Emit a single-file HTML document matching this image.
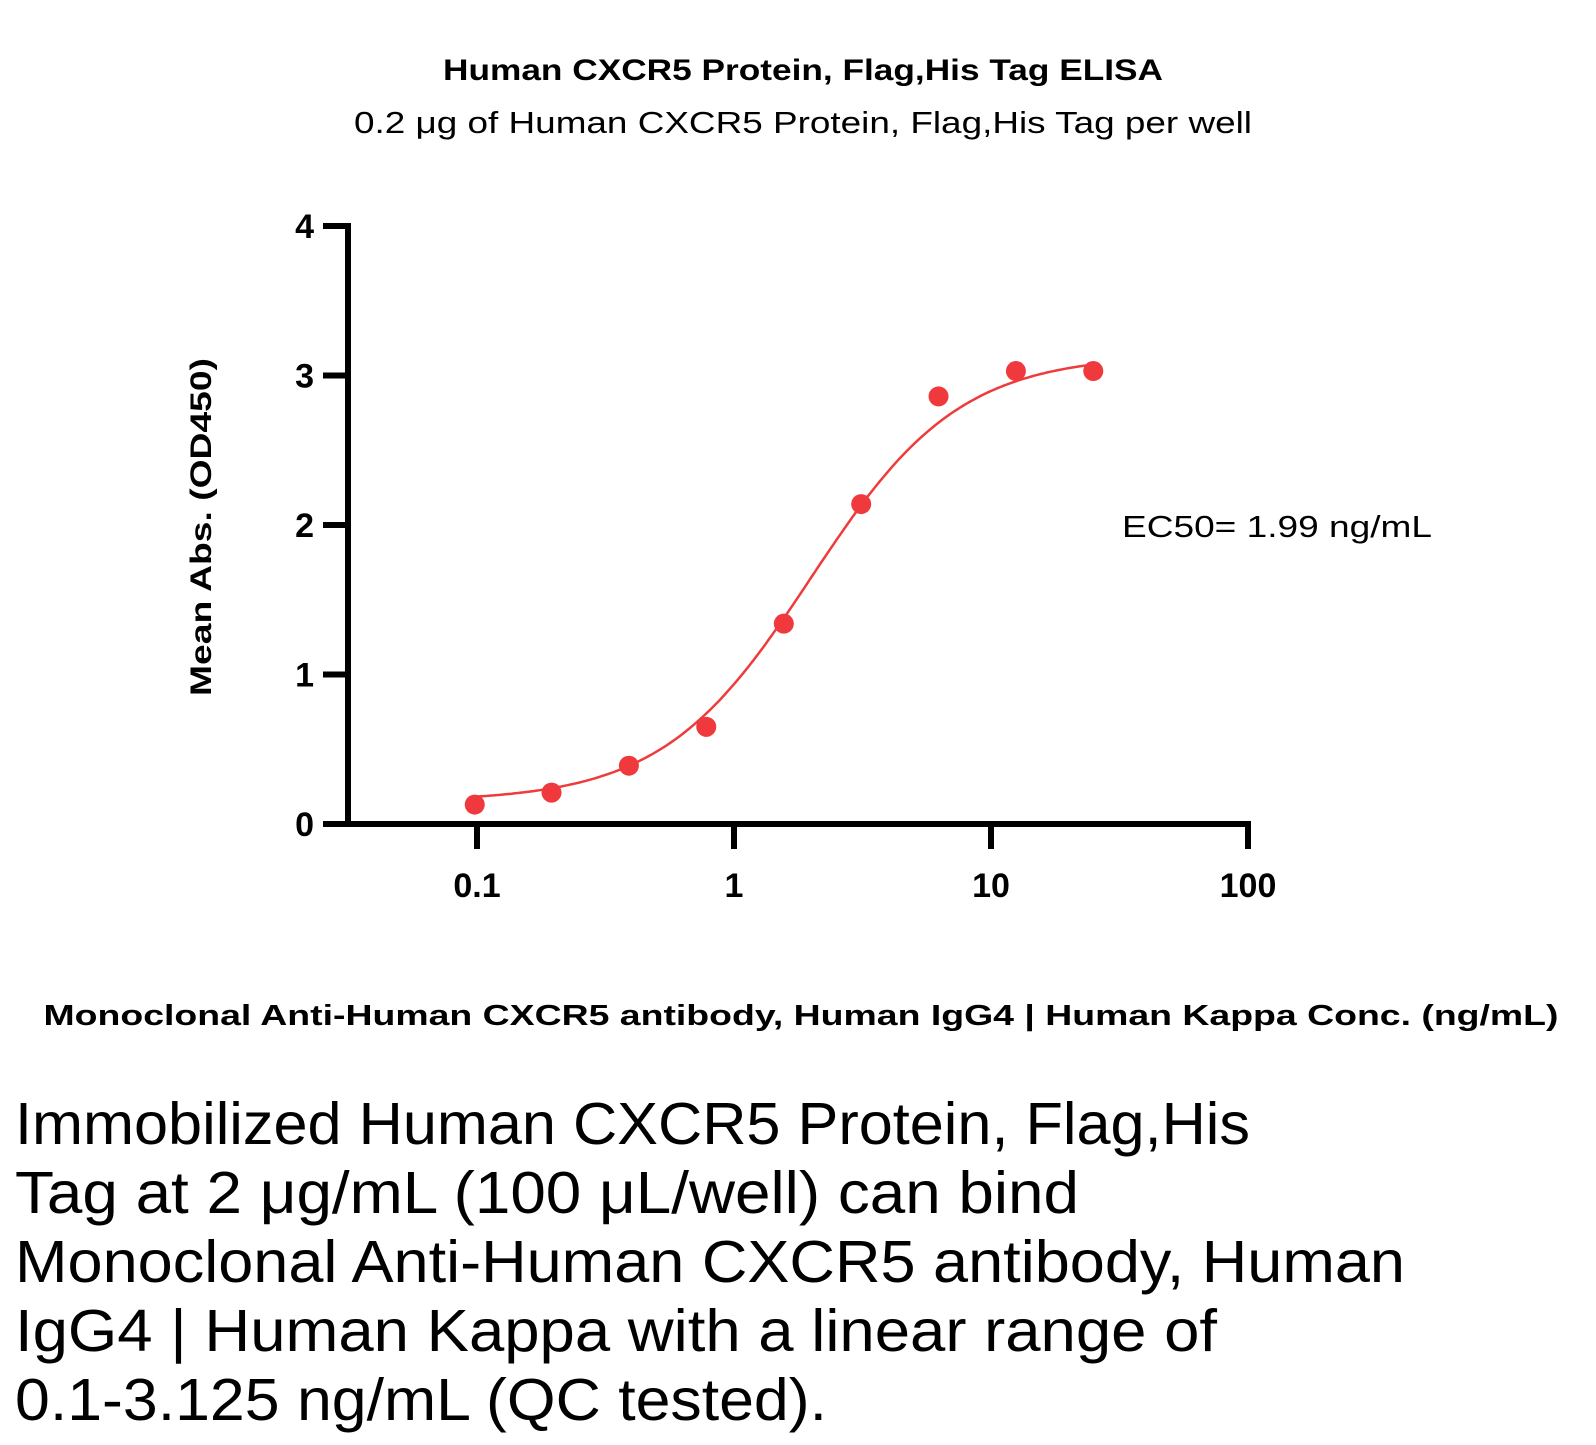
<!DOCTYPE html>
<html><head><meta charset="utf-8"><style>
html,body{margin:0;padding:0;background:#fff;}
svg{display:block;font-family:"Liberation Sans",sans-serif;}
</style></head><body>
<svg id="chart" width="1596" height="1445" viewBox="0 0 1596 1445" xmlns="http://www.w3.org/2000/svg">
<text x="803" y="80" text-anchor="middle" font-weight="bold" font-size="30" textLength="720" lengthAdjust="spacingAndGlyphs">Human CXCR5 Protein, Flag,His Tag ELISA</text>
<text x="803" y="133" text-anchor="middle" font-size="31" textLength="898" lengthAdjust="spacingAndGlyphs">0.2 μg of Human CXCR5 Protein, Flag,His Tag per well</text>
<text transform="translate(211,527) rotate(-90)" text-anchor="middle" font-weight="bold" font-size="30" textLength="338" lengthAdjust="spacingAndGlyphs">Mean Abs. (OD450)</text>
<text x="801" y="1025" text-anchor="middle" font-weight="bold" font-size="29" textLength="1515" lengthAdjust="spacingAndGlyphs">Monoclonal Anti-Human CXCR5 antibody, Human IgG4 | Human Kappa Conc. (ng/mL)</text>
<text x="1122" y="537" font-size="31" textLength="310" lengthAdjust="spacingAndGlyphs">EC50= 1.99 ng/mL</text>
<g font-size="59">
<text x="15" y="1144" textLength="1235" lengthAdjust="spacingAndGlyphs">Immobilized Human CXCR5 Protein, Flag,His</text>
<text x="15" y="1213" textLength="1064" lengthAdjust="spacingAndGlyphs">Tag at 2 μg/mL (100 μL/well) can bind</text>
<text x="15" y="1282" textLength="1390" lengthAdjust="spacingAndGlyphs">Monoclonal Anti-Human CXCR5 antibody, Human</text>
<text x="15" y="1351" textLength="1202" lengthAdjust="spacingAndGlyphs">IgG4 | Human Kappa with a linear range of</text>
<text x="15" y="1420" textLength="812" lengthAdjust="spacingAndGlyphs">0.1-3.125 ng/mL (QC tested).</text>
</g>
<g id="axes"></g>
<g id="marks"></g>
</svg>
<script>
const xConc = [0.098, 0.195, 0.39, 0.78, 1.5625, 3.125, 6.25, 12.5, 25];
const yAbs = [0.13, 0.21, 0.39, 0.65, 1.34, 2.14, 2.86, 3.03, 3.03];
const yTicks = [0, 1, 2, 3, 4];
const xTicks = [0.1, 1, 10, 100];
const xTickLabels = ["0.1", "1", "10", "100"];
const fitBottom = 0.15, fitTop = 3.14, fitEC50 = 1.99, fitHill = 1.5;

const NS = "http://www.w3.org/2000/svg";
const X0 = 477, DEC = 257, Y0 = 824, UNIT = 149.5;
function sx(v){ return X0 + DEC * Math.log10(v / 0.1); }
function sy(v){ return Y0 - UNIT * v; }
function mk(tag, attrs, parent){
  const e = document.createElementNS(NS, tag);
  for (const k in attrs) e.setAttribute(k, attrs[k]);
  parent.appendChild(e); return e;
}
const axes = document.getElementById('axes');
const marks = document.getElementById('marks');
let e;
e = mk('line', {x1:348, y1:sy(4)-3, x2:348, y2:Y0+3, stroke:'#000', 'stroke-width':6}, axes);


e = mk('line', {x1:323, y1:Y0, x2:sx(100)+3, y2:Y0, stroke:'#000', 'stroke-width':6}, axes);


yTicks.forEach(function(t){
  const l = mk('line', {x1:323, y1:sy(t), x2:348, y2:sy(t), stroke:'#000', 'stroke-width':6}, axes);
  
  
  const tx = mk('text', {x:314, y:sy(t)+12, 'text-anchor':'end', 'font-weight':'bold', 'font-size':34}, axes);
  tx.textContent = String(t);
  
  
});
xTicks.forEach(function(t, i){
  const l = mk('line', {x1:sx(t), y1:Y0, x2:sx(t), y2:849, stroke:'#000', 'stroke-width':6}, axes);
  
  
  const tx = mk('text', {x:sx(t), y:897, 'text-anchor':'middle', 'font-weight':'bold', 'font-size':34}, axes);
  tx.textContent = xTickLabels[i];
  
  
});
let d = '';
const lo = Math.log10(xConc[0]), hi = Math.log10(xConc[xConc.length-1]);
for (let i = 0; i <= 200; i++){
  const lx = lo + (hi - lo) * i / 200, c = Math.pow(10, lx);
  const v = fitBottom + (fitTop - fitBottom) / (1 + Math.pow(fitEC50 / c, fitHill));
  d += (i ? 'L' : 'M') + sx(c).toFixed(1) + ',' + sy(v).toFixed(1);
}
e = mk('path', {d:d, fill:'none', stroke:'#ee3b3b', 'stroke-width':2.5}, marks);


xConc.forEach(function(c, i){
  const p = mk('circle', {cx:sx(c), cy:sy(yAbs[i]), r:10, fill:'#f0393c'}, marks);
  
  
});
</script>
</body></html>
